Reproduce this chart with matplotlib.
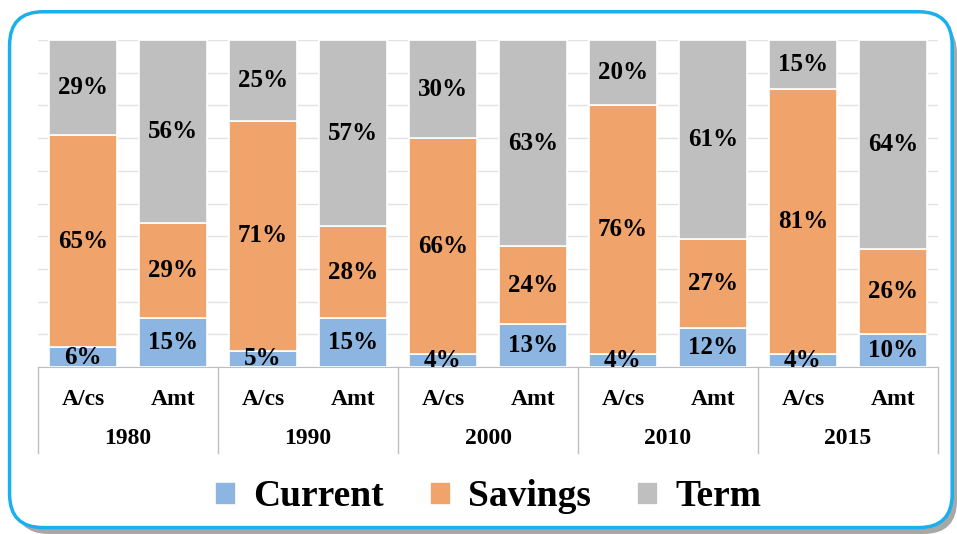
import numpy as np
import matplotlib.pyplot as plt
from matplotlib.patches import FancyBboxPatch

years = ['1980', '1990', '2000', '2010', '2015']
sub_labels = ['A/cs', 'Amt']
series = ['Current', 'Savings', 'Term']
colors = ['#8db5e2', '#f0a46c', '#bfbfbf']

# bar order: 1980 A/cs, 1980 Amt, 1990 A/cs, ...
current = [6, 15, 5, 15, 4, 13, 4, 12, 4, 10]
savings = [65, 29, 71, 28, 66, 24, 76, 27, 81, 26]
term = [29, 56, 25, 57, 30, 63, 20, 61, 15, 64]

plt.rcParams['font.family'] = ['Liberation Serif', 'DejaVu Serif']
plt.rcParams['font.weight'] = 'bold'

fig = plt.figure(figsize=(9.57, 5.34), dpi=100)

# rounded frame with shadow
shadow = FancyBboxPatch((0.016, 0.0), 0.984, 0.962, boxstyle='round,pad=0,rounding_size=0.035',
                        transform=fig.transFigure, facecolor='#a8a8a8', edgecolor='none',
                        mutation_aspect=957 / 534, zorder=0)
frame = FancyBboxPatch((0.010, 0.012), 0.985, 0.966, boxstyle='round,pad=0,rounding_size=0.035',
                       transform=fig.transFigure, facecolor='white', edgecolor='#1ab0ee',
                       linewidth=2.5, mutation_aspect=957 / 534, zorder=1)
fig.patches.extend([shadow, frame])

ax = fig.add_axes([38 / 957, 1 - 367 / 534, 900 / 957, 327 / 534])
ax.set_zorder(2)
ax.patch.set_alpha(0)

data = np.array([current, savings, term], dtype=float)
data = data / data.sum(axis=0) * 100
x = np.arange(len(current))
bottom = np.zeros(len(current))
for i, name in enumerate(series):
    ax.bar(x, data[i], 0.75, bottom=bottom, color=colors[i], edgecolor='white',
           linewidth=1.2, label=name, zorder=3)
    raw = [current, savings, term][i]
    for xi, b, h, v in zip(x, bottom, data[i], raw):
        ax.text(xi, b + h / 2, f'{v}%', ha='center', va='center', fontsize=18,
                fontweight='bold', zorder=4)
    bottom += data[i]

ax.set_xlim(-0.5, len(current) - 0.5)
ax.set_ylim(0, 100)
ax.set_yticks(np.arange(0, 101, 10))
ax.yaxis.grid(True, color='#e3e3e3', linewidth=1)
ax.set_axisbelow(True)
ax.tick_params(axis='y', left=False, labelleft=False)
for s in ['top', 'right', 'left']:
    ax.spines[s].set_visible(False)
ax.spines['bottom'].set_color('#bfbfbf')

ax.set_xticks(x)
ax.set_xticklabels(sub_labels * len(years), fontsize=17, fontweight='bold')
ax.tick_params(axis='x', length=0, pad=16)

trans = ax.get_xaxis_transform()
for k in range(len(years) + 1):
    xs = 2 * k - 0.5
    ax.plot([xs, xs], [0, -0.263], transform=trans, color='#bfbfbf', lw=1, clip_on=False)
for k, yr in enumerate(years):
    ax.text(2 * k + 0.5, -0.22, yr, transform=trans, ha='center', va='center',
            fontsize=17, fontweight='bold')

fig.legend(loc='center', bbox_to_anchor=(0.51, 1 - 497 / 534), ncol=3, frameon=False,
           prop={'size': 27, 'weight': 'bold'}, handlelength=0.55, handleheight=0.55,
           handletextpad=0.45, columnspacing=1.25)

fig.savefig('out.png', dpi=100)
